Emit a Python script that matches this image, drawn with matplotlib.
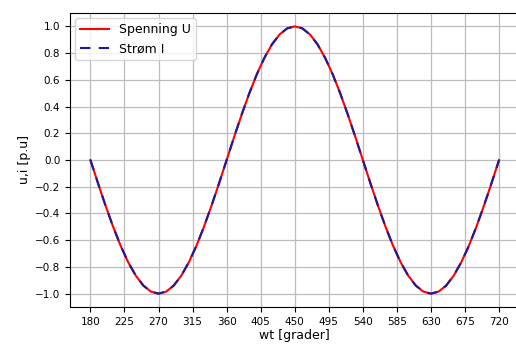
import matplotlib
matplotlib.use("Agg")
import matplotlib.pyplot as plt

# angle in degrees
wt = [180, 190, 200, 210, 220, 230, 240, 250, 260, 270, 280, 290, 300, 310, 320, 330, 340, 350,
      360, 370, 380, 390, 400, 410, 420, 430, 440, 450, 460, 470, 480, 490, 500, 510, 520, 530,
      540, 550, 560, 570, 580, 590, 600, 610, 620, 630, 640, 650, 660, 670, 680, 690, 700, 710, 720]

spenning_u = [0.0, -0.174, -0.342, -0.5, -0.643, -0.766, -0.866, -0.94, -0.985, -1.0,
              -0.985, -0.94, -0.866, -0.766, -0.643, -0.5, -0.342, -0.174,
              0.0, 0.174, 0.342, 0.5, 0.643, 0.766, 0.866, 0.94, 0.985, 1.0,
              0.985, 0.94, 0.866, 0.766, 0.643, 0.5, 0.342, 0.174,
              0.0, -0.174, -0.342, -0.5, -0.643, -0.766, -0.866, -0.94, -0.985, -1.0,
              -0.985, -0.94, -0.866, -0.766, -0.643, -0.5, -0.342, -0.174, 0.0]

strom_i = [0.0, -0.174, -0.342, -0.5, -0.643, -0.766, -0.866, -0.94, -0.985, -1.0,
           -0.985, -0.94, -0.866, -0.766, -0.643, -0.5, -0.342, -0.174,
           0.0, 0.174, 0.342, 0.5, 0.643, 0.766, 0.866, 0.94, 0.985, 1.0,
           0.985, 0.94, 0.866, 0.766, 0.643, 0.5, 0.342, 0.174,
           0.0, -0.174, -0.342, -0.5, -0.643, -0.766, -0.866, -0.94, -0.985, -1.0,
           -0.985, -0.94, -0.866, -0.766, -0.643, -0.5, -0.342, -0.174, 0.0]

x_ticks = [180, 225, 270, 315, 360, 405, 450, 495, 540, 585, 630, 675, 720]
y_ticks = [-1.0, -0.8, -0.6, -0.4, -0.2, 0.0, 0.2, 0.4, 0.6, 0.8, 1.0]

fig = plt.figure(figsize=(5.16, 3.5), dpi=100)
ax = fig.add_axes([70 / 516, 43 / 350, 449.5 / 516, 294 / 350])

ax.plot(wt, spenning_u, color="red", lw=1.5, label="Spenning U")
ax.plot(wt, strom_i, color="#1a1aa0", lw=1.5, linestyle=(0, (5, 4)), label="Strøm I")

ax.set_xticks(x_ticks)
ax.set_yticks(y_ticks)
ax.set_yticklabels([f"{v:.1f}".replace("-", "\u2212") for v in y_ticks])
ax.tick_params(labelsize=7.5, length=3.5)
ax.grid(True, color="#bdbdbd", lw=0.9)
ax.set_xlabel("wt [grader]", fontsize=9, labelpad=2)
ax.set_ylabel("u,i [p.u]", fontsize=9, labelpad=3)
ax.legend(loc="upper left", fontsize=9, handlelength=2.3, borderaxespad=0.4)

fig.savefig("out.png", dpi=100)
